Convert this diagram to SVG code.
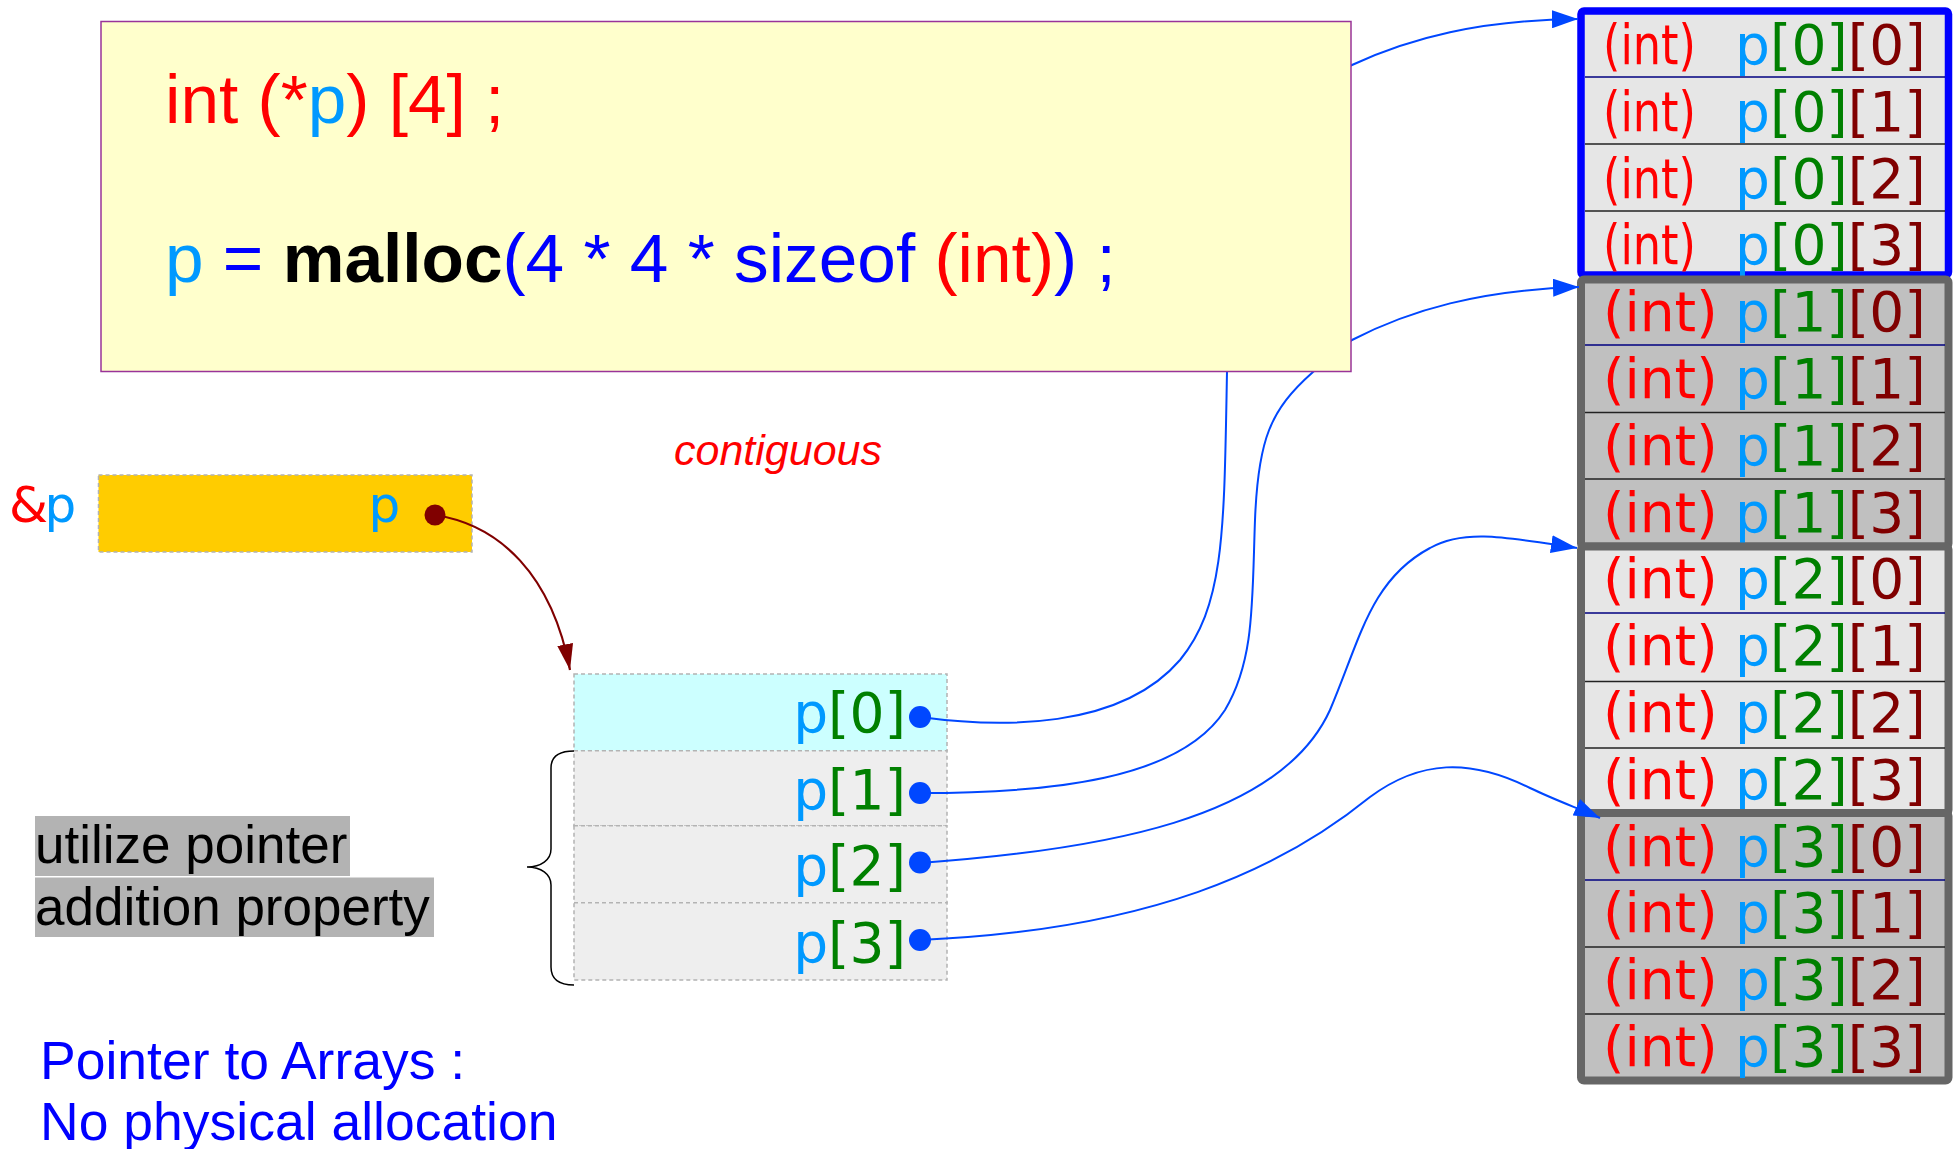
<svg xmlns="http://www.w3.org/2000/svg" width="1954" height="1149" viewBox="0 0 1954 1149">
<defs>
<style>
.dv{font-family:"DejaVu Sans",sans-serif;}
.ls{font-family:"Liberation Sans",Arial,sans-serif;}
.r{fill:#ff0000;}
.lb{fill:#0099ff;}
.g{fill:#008000;}
.dr{fill:#800000;}
.bl{fill:#0000ff;}
.mem{font-size:55px;}
.conn{fill:none;stroke:#0047ff;stroke-width:2;}
.dot{fill:#0047ff;}
.div0{stroke:#000080;stroke-width:1.5;}
.div{stroke:#222222;stroke-width:1.5;}
.cell{stroke:#b3b3b3;stroke-width:1.5;stroke-dasharray:4 3;}
</style>
<marker id="ab" markerUnits="userSpaceOnUse" markerWidth="26" markerHeight="18" viewBox="0 0 26 18" refX="26" refY="9" orient="auto">
<path d="M0,0 L26,9 L0,18 z" fill="#0047ff"/>
</marker>
<marker id="ar" markerUnits="userSpaceOnUse" markerWidth="26" markerHeight="16" viewBox="0 0 26 16" refX="26" refY="8" orient="auto">
<path d="M0,0 L26,8 L0,16 z" fill="#800000"/>
</marker>
</defs>
<rect width="1954" height="1149" fill="#ffffff"/>

<g id="contiguous-label">
<text class="ls r" x="674" y="465" font-size="43" font-style="italic">contiguous</text>
</g>

<g id="p-variable">
<text class="dv" x="9" y="522" font-size="50"><tspan class="r">&amp;</tspan><tspan class="lb" x="44.5">p</tspan></text>
<rect x="98.5" y="475" width="373.5" height="77" fill="#ffcc00" stroke="#b3b3b3" stroke-width="1.5" stroke-dasharray="4 3"/>
<text class="dv lb" x="368.5" y="522" font-size="50">p</text>
</g>

<g id="pointer-array">
<rect class="cell" x="574" y="674" width="373" height="76.7" fill="#ccffff"/>
<rect class="cell" x="574" y="750.7" width="373" height="75" fill="#eeeeee"/>
<rect class="cell" x="574" y="825.7" width="373" height="77" fill="#eeeeee"/>
<rect class="cell" x="574" y="902.7" width="373" height="77.3" fill="#eeeeee"/>
<g class="dv" font-size="55" text-anchor="end">
<text x="906" y="732"><tspan class="lb">p</tspan><tspan class="g">[0]</tspan></text>
<text x="906" y="808.5"><tspan class="lb">p</tspan><tspan class="g">[1]</tspan></text>
<text x="906" y="885"><tspan class="lb">p</tspan><tspan class="g">[2]</tspan></text>
<text x="906" y="961.5"><tspan class="lb">p</tspan><tspan class="g">[3]</tspan></text>
</g>
<path fill="none" stroke="#000000" stroke-width="1.5" d="M574 751 C558 751 551 757 551 768 L551 849 C551 860 541 867 527 867 C541 867 551 874 551 885 L551 967 C551 978 558 985 574 985"/>
</g>

<g id="note-pointer-addition">
<rect x="35" y="816" width="315" height="60" fill="#b3b3b3"/>
<rect x="35" y="877.5" width="399" height="59.5" fill="#b3b3b3"/>
<text class="ls" x="35" y="863" font-size="53" fill="#000000">utilize pointer</text>
<text class="ls" x="35" y="925" font-size="53" fill="#000000">addition property</text>
</g>

<g id="note-pointer-to-arrays">
<text class="ls bl" x="40" y="1079" font-size="53.5">Pointer to Arrays :</text>
<text class="ls bl" x="40" y="1140" font-size="53.5">No physical allocation</text>
</g>

<g id="array-p0">
<rect x="1581" y="11" width="367.5" height="264" rx="3" fill="#e6e6e6" stroke="#0000ff" stroke-width="7.5"/>
<line class="div0" x1="1585" y1="77" x2="1945" y2="77"/>
<line class="div" x1="1585" y1="144" x2="1945" y2="144"/>
<line class="div" x1="1585" y1="211" x2="1945" y2="211"/>
<g class="dv mem">
<text class="r" x="1603" y="64" textLength="93" lengthAdjust="spacingAndGlyphs">(int)</text>
<text x="1735" y="64"><tspan class="lb">p</tspan><tspan class="g">[0]</tspan><tspan class="dr">[0]</tspan></text>
<text class="r" x="1603" y="130.8" textLength="93" lengthAdjust="spacingAndGlyphs">(int)</text>
<text x="1735" y="130.8"><tspan class="lb">p</tspan><tspan class="g">[0]</tspan><tspan class="dr">[1]</tspan></text>
<text class="r" x="1603" y="197.6" textLength="93" lengthAdjust="spacingAndGlyphs">(int)</text>
<text x="1735" y="197.6"><tspan class="lb">p</tspan><tspan class="g">[0]</tspan><tspan class="dr">[2]</tspan></text>
<text class="r" x="1603" y="264.4" textLength="93" lengthAdjust="spacingAndGlyphs">(int)</text>
<text x="1735" y="264.4"><tspan class="lb">p</tspan><tspan class="g">[0]</tspan><tspan class="dr">[3]</tspan></text>
</g>
</g>

<g id="array-p1">
<rect x="1581" y="279.5" width="367.5" height="267" rx="3" fill="#c0c0c0" stroke="#666666" stroke-width="8"/>
<line class="div0" x1="1585" y1="345" x2="1945" y2="345"/>
<line class="div" x1="1585" y1="412.5" x2="1945" y2="412.5"/>
<line class="div" x1="1585" y1="479" x2="1945" y2="479"/>
<g class="dv mem">
<text x="1603" y="331.2"><tspan class="r">(int)</tspan><tspan x="1735" class="lb">p</tspan><tspan class="g">[1]</tspan><tspan class="dr">[0]</tspan></text>
<text x="1603" y="398"><tspan class="r">(int)</tspan><tspan x="1735" class="lb">p</tspan><tspan class="g">[1]</tspan><tspan class="dr">[1]</tspan></text>
<text x="1603" y="464.8"><tspan class="r">(int)</tspan><tspan x="1735" class="lb">p</tspan><tspan class="g">[1]</tspan><tspan class="dr">[2]</tspan></text>
<text x="1603" y="531.6"><tspan class="r">(int)</tspan><tspan x="1735" class="lb">p</tspan><tspan class="g">[1]</tspan><tspan class="dr">[3]</tspan></text>
</g>
</g>

<g id="array-p2">
<rect x="1581" y="546.6" width="367.5" height="266.4" rx="3" fill="#e6e6e6" stroke="#666666" stroke-width="8"/>
<line class="div0" x1="1585" y1="613" x2="1945" y2="613"/>
<line class="div" x1="1585" y1="681.5" x2="1945" y2="681.5"/>
<line class="div" x1="1585" y1="748" x2="1945" y2="748"/>
<g class="dv mem">
<text x="1603" y="598.4"><tspan class="r">(int)</tspan><tspan x="1735" class="lb">p</tspan><tspan class="g">[2]</tspan><tspan class="dr">[0]</tspan></text>
<text x="1603" y="665.2"><tspan class="r">(int)</tspan><tspan x="1735" class="lb">p</tspan><tspan class="g">[2]</tspan><tspan class="dr">[1]</tspan></text>
<text x="1603" y="732"><tspan class="r">(int)</tspan><tspan x="1735" class="lb">p</tspan><tspan class="g">[2]</tspan><tspan class="dr">[2]</tspan></text>
<text x="1603" y="798.8"><tspan class="r">(int)</tspan><tspan x="1735" class="lb">p</tspan><tspan class="g">[2]</tspan><tspan class="dr">[3]</tspan></text>
</g>
</g>

<g id="array-p3">
<rect x="1581" y="813" width="367.5" height="267.5" rx="3" fill="#c0c0c0" stroke="#666666" stroke-width="8"/>
<line class="div0" x1="1585" y1="880" x2="1945" y2="880"/>
<line class="div" x1="1585" y1="947" x2="1945" y2="947"/>
<line class="div" x1="1585" y1="1014" x2="1945" y2="1014"/>
<g class="dv mem">
<text x="1603" y="865.6"><tspan class="r">(int)</tspan><tspan x="1735" class="lb">p</tspan><tspan class="g">[3]</tspan><tspan class="dr">[0]</tspan></text>
<text x="1603" y="932.4"><tspan class="r">(int)</tspan><tspan x="1735" class="lb">p</tspan><tspan class="g">[3]</tspan><tspan class="dr">[1]</tspan></text>
<text x="1603" y="999.2"><tspan class="r">(int)</tspan><tspan x="1735" class="lb">p</tspan><tspan class="g">[3]</tspan><tspan class="dr">[2]</tspan></text>
<text x="1603" y="1066"><tspan class="r">(int)</tspan><tspan x="1735" class="lb">p</tspan><tspan class="g">[3]</tspan><tspan class="dr">[3]</tspan></text>
</g>
</g>

<!-- connectors: above the memory blocks, under the code box -->
<g id="connectors">
<path class="conn" marker-end="url(#ab)" d="M920 717 C1000 728 1120 730 1180 660 C1225 605 1224 530 1227 372 L1227 150 C1227 100 1300 90 1352 65 C1410 38 1480 20 1578 19"/>
<path class="conn" marker-end="url(#ab)" d="M920 793 C1050 793 1180 780 1225 710 C1255 660 1252 600 1255 520 C1258 440 1270 410 1313 372 L1352 340 C1410 310 1480 290 1579 287"/>
<path class="conn" marker-end="url(#ab)" d="M920 863 C1100 850 1280 820 1330 710 C1360 640 1370 580 1430 548 C1465 528 1510 538 1577 548"/>
<path class="conn" marker-end="url(#ab)" d="M920 940 C1150 930 1280 870 1370 797 C1420 760 1470 758 1530 788 C1555 800 1580 809 1600 818"/>
<path fill="none" stroke="#800000" stroke-width="2.2" marker-end="url(#ar)" d="M435 515 C500 525 552 575 570 670"/>
<circle class="dot" cx="920" cy="717" r="11"/>
<circle class="dot" cx="920" cy="793" r="11"/>
<circle class="dot" cx="920" cy="862.5" r="11"/>
<circle class="dot" cx="920" cy="940" r="11"/>
<circle cx="435" cy="515" r="10.5" fill="#800000"/>
</g>

<g id="code-box">
<rect x="101" y="21.5" width="1250" height="350" fill="#ffffcc" stroke="#993399" stroke-width="1.5"/>
<text class="ls" x="165" y="123" font-size="69.4"><tspan class="r">int (*</tspan><tspan class="lb">p</tspan><tspan class="r">) [4] ;</tspan></text>
<text class="ls" x="165" y="282" font-size="69.4"><tspan class="lb">p</tspan><tspan class="bl"> = </tspan><tspan font-weight="bold" fill="#000000">malloc</tspan><tspan class="bl">(4 * 4 * sizeof </tspan><tspan class="r">(int)</tspan><tspan class="bl">) ;</tspan></text>
</g>
</svg>
